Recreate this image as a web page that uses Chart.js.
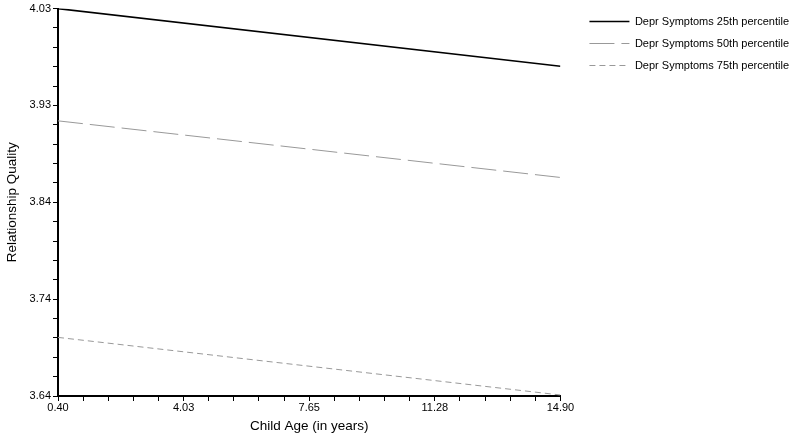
<!DOCTYPE html>
<html>
<head>
<meta charset="utf-8">
<script src="https://cdn.jsdelivr.net/npm/chart.js@4"></script>
<style>
  html, body { margin: 0; padding: 0; background: #fff; }
  #wrap { width: 800px; height: 439px; }
</style>
</head>
<body>
<div id="wrap"><canvas id="chart" width="800" height="439"></canvas></div>
<script>
// Data
const ages = [0.40, 14.90];
const p25 = [4.030, 3.972];
const p50 = [3.917, 3.860];
const p75 = [3.699, 3.641];
const seriesNames = ['Depr Symptoms 25th percentile', 'Depr Symptoms 50th percentile', 'Depr Symptoms 75th percentile'];

const xMajorValues = [0.40, 4.025, 7.65, 11.275, 14.90];
const xMajorLabels = ['0.40', '4.03', '7.65', '11.28', '14.90'];
const yMajorValues = [3.64, 3.7375, 3.835, 3.9325, 4.03];
const yMajorLabels = ['3.64', '3.74', '3.84', '3.93', '4.03'];

// 5 minor subdivisions between each pair of major ticks
function withMinor(major) {
    const out = [];
    for (let i = 0; i < major.length - 1; i++) {
        const step = (major[i + 1] - major[i]) / 5;
        for (let j = 0; j < 5; j++) out.push(major[i] + step * j);
    }
    out.push(major[major.length - 1]);
    return out;
}

function toPoints(xs, ys) {
    return xs.map((x, i) => ({ x: x, y: ys[i] }));
}

const tickFont = { family: 'Liberation Sans, Arial, sans-serif', size: 11 };
const titleFont = { family: 'Liberation Sans, Arial, sans-serif', size: 13.5 };

new Chart(document.getElementById('chart'), {
    type: 'line',
    data: {
        datasets: [
            {
                label: seriesNames[0],
                data: toPoints(ages, p25),
                borderColor: '#000',
                borderWidth: 1.6,
                pointRadius: 0,
                tension: 0
            },
            {
                label: seriesNames[1],
                data: toPoints(ages, p50),
                borderColor: '#999',
                borderWidth: 1,
                borderDash: [25, 7],
                pointRadius: 0,
                tension: 0
            },
            {
                label: seriesNames[2],
                data: toPoints(ages, p75),
                borderColor: '#999',
                borderWidth: 1,
                borderDash: [6, 4],
                pointRadius: 0,
                tension: 0
            }
        ]
    },
    options: {
        responsive: false,
        animation: false,
        layout: { padding: { top: 5, left: 0, right: 1, bottom: 0 } },
        scales: {
            x: {
                type: 'linear',
                min: 0.40,
                max: 14.90,
                afterBuildTicks: scale => {
                    scale.ticks = withMinor(xMajorValues).map(v => ({ value: v }));
                },
                afterFit: scale => { scale.height = 43; },
                ticks: {
                    autoSkip: false,
                    maxRotation: 0,
                    color: '#000',
                    font: tickFont,
                    padding: 0,
                    callback: (v, i) => (i % 5 === 0 ? xMajorLabels[i / 5] : '')
                },
                grid: { drawOnChartArea: false, tickLength: 5, tickColor: '#000' },
                border: { color: '#000', width: 2 },
                title: { display: true, text: 'Child Age (in years)', color: '#000', font: titleFont, padding: { top: 0, bottom: 5 } }
            },
            y: {
                min: 3.64,
                max: 4.03,
                afterBuildTicks: scale => {
                    scale.ticks = withMinor(yMajorValues).map(v => ({ value: v }));
                },
                afterFit: scale => { scale.width = 58; },
                ticks: {
                    autoSkip: false,
                    color: '#000',
                    font: tickFont,
                    padding: 2,
                    callback: (v, i) => (i % 5 === 0 ? yMajorLabels[i / 5] : '')
                },
                grid: { drawOnChartArea: false, tickLength: 5, tickColor: '#000' },
                border: { color: '#000', width: 2 },
                title: { display: true, text: 'Relationship Quality', color: '#000', font: titleFont, padding: { top: 4, bottom: 0 } }
            },
            // empty spacer between the plot and the legend
            gap: {
                type: 'linear',
                position: 'right',
                afterFit: scale => { scale.width = 18; },
                ticks: { display: false },
                grid: { display: false },
                border: { display: false }
            }
        },
        plugins: {
            legend: {
                position: 'right',
                align: 'start',
                maxWidth: 320,
                labels: {
                    usePointStyle: true,
                    pointStyle: 'line',
                    pointStyleWidth: 40,
                    boxHeight: 11,
                    padding: 11,
                    color: '#000',
                    font: tickFont,
                    generateLabels: chart => {
                        const items = Chart.defaults.plugins.legend.labels.generateLabels(chart);
                        items.forEach(item => {
                            const ds = chart.data.datasets[item.datasetIndex];
                            item.lineDash = ds.borderDash || [];
                            item.lineWidth = ds.borderWidth;
                            item.strokeStyle = ds.borderColor;
                        });
                        return items;
                    }
                }
            },
            tooltip: { enabled: false }
        }
    }
});
</script>
</body>
</html>
